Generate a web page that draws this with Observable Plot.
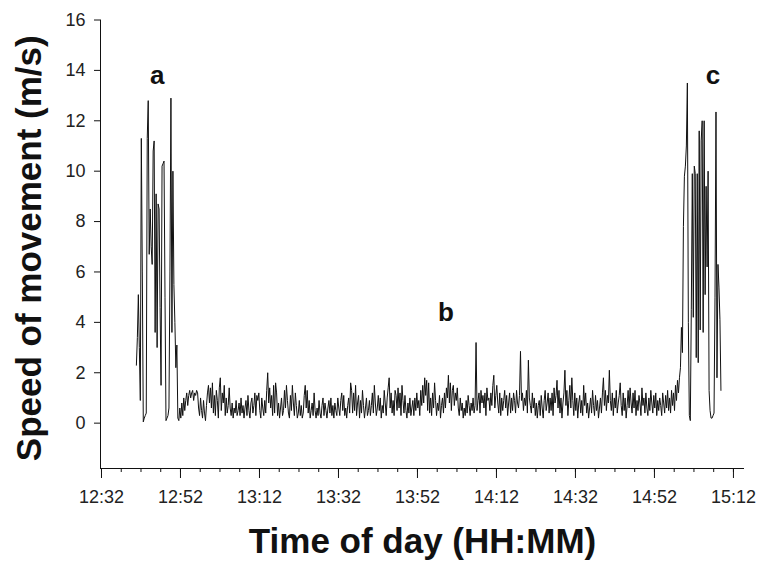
<!DOCTYPE html>
<html>
<head>
<meta charset="utf-8">
<script src="https://cdn.jsdelivr.net/npm/d3@7"></script>
<script src="https://cdn.jsdelivr.net/npm/@observablehq/plot@0.6"></script>
<style>
  html, body { margin: 0; padding: 0; background: #fff; }
  #chart { width: 765px; height: 565px; }
</style>
</head>
<body>
<div id="chart"></div>
<script>
// ---- data ----
// sampling clock: first sample at 12:40:50, one sample every 15 s
const startMinute = 12 * 60 + 40 + 50 / 60;
const stepMinutes = 0.25;

// burst "a"
const speedA = [
  2.3, 3.4, 5.1, 3.0, 0.9, 11.3, 6.0, 0.05, 0.2, 0.3,
  0.4, 11.3, 12.8, 6.7, 8.5, 7.0, 6.3, 10.8, 11.2, 3.6,
  9.1, 3.0, 8.7, 8.5, 4.6, 1.5, 10.2, 10.3, 10.4, 5.0,
  0.1, 0.2, 0.3, 0.6, 6.0, 12.9, 3.6, 10.0, 5.5, 4.0,
  2.2, 3.1, 0.2, 0.1, 0.6
];

// calm middle period (around "b")
const speedB = [
  0.2, 0.8, 0.3, 1.0, 0.5, 0.9, 1.2, 0.7, 1.1, 1.3, 1.0, 1.2, 1.3, 0.9, 1.2,
  1.1, 1.3, 1.2, 0.6, 0.3, 1.0, 0.5, 0.2, 0.9, 0.4, 0.1, 0.7, 1.2, 1.5, 0.8, 1.4, 0.6, 1.6, 0.4, 1.1,
  0.3, 1.3, 0.9, 0.2, 1.4, 1.8, 0.5, 1.2, 0.8, 1.5, 0.3, 1.0, 0.4, 0.7, 1.4, 0.6, 0.3, 0.8, 0.2, 0.6,
  0.4, 0.9, 0.3, 0.5, 0.8, 0.3, 1.0, 0.4, 0.7, 0.2, 0.6, 0.9, 0.3, 1.1, 0.5, 0.2, 0.8, 1.0, 0.4, 0.7,
  1.2, 0.3, 1.1, 0.9, 1.2, 0.5, 0.2, 1.0, 0.6, 0.3, 0.9, 0.4, 1.3, 2.0, 0.8, 1.4, 0.6, 1.1, 0.3, 1.5,
  0.4, 1.6, 1.2, 0.3, 0.8, 0.2, 0.6, 1.0, 0.3, 0.5, 1.3, 0.6, 1.5, 0.9, 0.4, 0.2, 1.1, 0.5, 1.5, 0.8,
  0.3, 1.2, 0.7, 0.2, 0.4, 0.9, 0.3, 0.7, 0.2, 0.4, 1.1, 1.5, 0.6, 1.3, 0.4, 0.9, 0.2, 0.5, 0.8, 0.3,
  1.2, 0.5, 0.2, 0.6, 0.3, 0.9, 0.4, 0.2, 0.7, 1.0, 0.3, 0.8, 0.5, 0.2, 0.6, 0.9, 0.4, 1.0, 0.3, 0.7,
  0.2, 0.8, 0.5, 0.3, 1.0, 0.6, 0.3, 0.9, 1.2, 0.5, 1.1, 0.3, 0.6, 0.2, 0.7, 1.0, 0.4, 1.6, 1.3, 0.4,
  1.2, 0.5, 1.5, 0.3, 0.8, 1.1, 0.2, 0.9, 0.4, 1.3, 0.7, 0.2, 0.6, 1.0, 0.3, 0.5, 0.9, 0.3, 0.7, 1.2,
  0.4, 1.5, 0.8, 0.3, 0.6, 1.1, 0.5, 1.0, 0.2, 0.7, 0.4, 1.3, 0.8, 0.3, 1.0, 1.4, 1.8, 0.6, 1.2, 0.4,
  0.9, 0.3, 1.3, 1.1, 0.5, 1.4, 0.6, 1.2, 0.3, 1.5, 0.9, 0.4, 1.1, 0.5, 0.2, 0.8, 0.4, 1.0, 0.3, 0.6,
  0.9, 0.3, 1.0, 0.5, 1.2, 0.6, 0.9, 0.3, 1.3, 0.7, 1.5, 0.8, 1.8, 1.1, 1.7, 0.5, 1.6, 0.4, 1.0, 0.3,
  1.2, 0.6, 1.6, 0.9, 0.3, 0.8, 0.5, 1.1, 0.2, 0.7, 1.0, 0.4, 1.2, 0.6, 1.4, 1.0, 1.9, 0.8, 1.6, 0.5,
  1.3, 1.5, 0.7, 1.2, 0.9, 1.4, 0.6, 0.3, 1.0, 0.5, 0.8, 0.2, 0.6, 0.3, 0.9, 0.4, 1.1, 0.7, 0.3, 0.8,
  0.5, 1.0, 0.4, 0.7, 3.2, 0.5, 0.9, 1.2, 0.4, 1.3, 0.8, 1.1, 0.6, 1.2, 0.3, 1.4, 0.9, 1.0, 0.5, 1.2,
  0.7, 1.5, 1.9, 0.6, 1.1, 1.5, 0.8, 0.4, 1.2, 0.3, 1.0, 0.5, 0.9, 1.3, 0.6, 1.1, 0.3, 0.8, 1.2, 0.4,
  1.0, 0.5, 1.2, 0.9, 0.4, 1.3, 0.8, 0.6, 1.1, 2.85, 0.9, 1.2, 0.5, 1.0, 0.7, 1.3, 0.4, 2.5, 1.0, 0.7,
  0.4, 1.2, 0.6, 1.0, 0.3, 0.8, 0.2, 0.7, 0.9, 0.3, 1.1, 0.6, 0.2, 0.9, 1.3, 0.5, 0.8, 1.2, 0.4, 1.0,
  0.5, 1.2, 0.3, 1.4, 0.8, 1.1, 1.7, 0.6, 1.3, 0.4, 1.0, 0.2, 0.8, 1.2, 2.1, 0.7, 1.3, 0.3, 0.9, 1.5,
  0.6, 1.8, 0.9, 0.3, 1.2, 0.5, 1.0, 0.2, 0.8, 1.1, 0.4, 0.9, 0.3, 1.5, 0.7, 1.2, 0.4, 0.8, 0.2, 0.6,
  1.0, 0.4, 1.3, 0.7, 0.3, 1.1, 0.5, 0.9, 0.2, 0.6, 1.0, 0.4, 1.2, 1.8, 0.7, 1.3, 0.5, 1.1, 0.8, 2.1,
  0.9, 0.5, 1.2, 0.3, 1.0, 0.6, 1.3, 0.4, 0.8, 1.1, 1.6, 0.7, 0.3, 1.2, 0.5, 1.0, 0.2, 0.7, 1.3, 0.6,
  1.4, 0.8, 0.4, 1.2, 0.6, 1.3, 0.3, 0.9, 0.5, 1.1, 0.8, 0.3, 1.4, 0.7, 1.0, 0.4, 1.2, 0.6, 0.3, 1.0,
  0.5, 1.3, 0.8, 0.4, 1.1, 0.6, 1.2, 0.3, 0.9, 0.5, 1.0, 0.7, 0.3, 1.2, 0.8, 0.4, 1.1, 0.6, 1.3, 0.5,
  1.0, 0.4, 1.3, 0.7, 1.2, 0.5, 1.5, 0.9, 1.7, 1.2, 1.8, 2.2
];

// burst "c"
const speedC = [
  3.8, 2.8, 7.8, 9.8, 10.2, 11.0, 13.5, 4.0, 0.3, 0.1,
  4.5, 9.9, 4.2, 10.2, 9.9, 2.6, 9.9, 2.4, 11.6, 3.7,
  11.2, 12.0, 3.6, 12.0, 5.1, 9.4, 6.2, 10.0, 1.3, 0.5,
  0.2, 0.2, 0.3, 0.4, 5.0, 12.35, 1.8, 6.3, 5.4, 4.1, 1.3
];

// axis ticks
const yTicks = [0, 2, 4, 6, 8, 10, 12, 14, 16];
const tickLabels = ["12:32", "12:52", "13:12", "13:32", "13:52", "14:12", "14:32", "14:52", "15:12"];
const majorTicks = tickLabels.map(s => +s.slice(0, 2) * 60 + +s.slice(3));
const minorTicks = d3.range(majorTicks[0], majorTicks[majorTicks.length - 1] + 1, 5);

// panel letters
const letterText = ["a", "b", "c"];
const letterTime = ["12:46:06", "13:59:13", "15:06:48"];
const letterSpeed = [13.8, 4.38, 13.8];

const xTitle = "Time of day (HH:MM)";
const yTitle = "Speed of movement (m/s)";

// ---- build tables ----
const speed = speedA.concat(speedB, speedC);
const series = speed.map((v, i) => ({t: startMinute + i * stepMinutes, v}));
const toMin = s => { const p = s.split(":").map(Number); return p[0] * 60 + p[1] + (p[2] || 0) / 60; };
const letters = letterText.map((l, i) => ({label: l, t: toMin(letterTime[i]), v: letterSpeed[i]}));
const labelOf = new Map(majorTicks.map((m, i) => [m, tickLabels[i]]));

const xDomain = [751.75, 914.8];
const yDomain = [-1.8, 16];
const font = "'Liberation Sans', Arial, Helvetica, sans-serif";

const chart = Plot.plot({
  width: 765,
  height: 565,
  marginLeft: 100,
  marginRight: 21,
  marginTop: 19.5,
  marginBottom: 97,
  style: {fontFamily: font, fontSize: "18px", color: "#222", background: "#fff", overflow: "visible"},
  x: {domain: xDomain, label: null},
  y: {domain: yDomain, label: null},
  marks: [
    Plot.ruleX([xDomain[0]], {stroke: "#111", strokeWidth: 1}),
    Plot.ruleY([yDomain[0]], {stroke: "#111", strokeWidth: 1}),
    Plot.axisY({ticks: yTicks, tickSize: 6, tickPadding: 9, label: null, stroke: "#111", fill: "#222", fontSize: 18}),
    Plot.axisX({ticks: minorTicks, tickSize: 4, tickFormat: () => "", label: null, stroke: "#111"}),
    Plot.axisX({ticks: majorTicks, tickSize: 10, tickPadding: 12, tickFormat: d => labelOf.get(d), label: null, stroke: "#111", fill: "#222", fontSize: 18}),
    Plot.line(series, {x: "t", y: "v", stroke: "#111", strokeWidth: 1}),
    Plot.text(letters, {x: "t", y: "v", text: "label", fontSize: 26, fontWeight: "bold", fill: "#111"}),
    Plot.text([yTitle], {frameAnchor: "left", textAnchor: "middle", lineAnchor: "middle", rotate: -90, dx: -70.4, dy: 4, fontSize: 35, fontWeight: "bold", fill: "#111"}),
    Plot.text([xTitle], {frameAnchor: "bottom", textAnchor: "middle", lineAnchor: "middle", dy: 73, fontSize: 35, fontWeight: "bold", fill: "#111"})
  ]
});
document.getElementById("chart").appendChild(chart);
</script>
</body>
</html>
